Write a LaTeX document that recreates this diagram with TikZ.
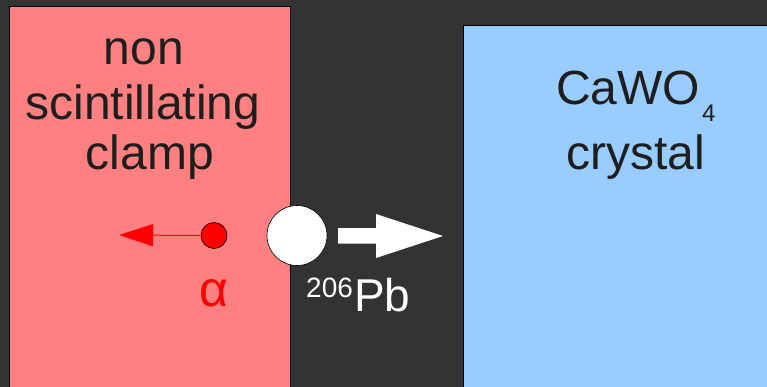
\documentclass[tikz,border=0pt]{standalone}
\usepackage{fontspec}
\setmainfont{Liberation Sans}
\usetikzlibrary{arrows.meta}
\definecolor{bg}{HTML}{333333}
\definecolor{clamp}{HTML}{FF8080}
\definecolor{crys}{HTML}{99CCFF}
\definecolor{ink}{HTML}{1E1E1E}
\begin{document}
\begin{tikzpicture}[x=1pt,y=-1pt,
  big/.style={font=\fontsize{48}{52}\selectfont, text=ink, inner sep=0pt, anchor=base},
  block/.style={draw=black, line width=0.8pt}]
\useasboundingbox (0,0) rectangle (767,387);
\fill[bg] (0,0) rectangle (767,387);
% clamp and crystal
\draw[block, fill=clamp] (9,400) -- (9,6) -- (290.5,6) -- (290.5,400);
\draw[block, fill=crys] (463,400) -- (463,25) -- (780,25) -- (780,400);
\clip (0,0) rectangle (767,387);
\node[big] (non) at (144,65) {non};
\node[big] (scint) at (143,120) {scintillating};
\node[big] (clampt) at (150,170) {clamp};
\node[big, anchor=base west] (cawo) at (556,105) {CaWO};
\node[font=\fontsize{24}{26}\selectfont, text=ink, inner sep=0pt, anchor=base west] (four) at (702,122) {4};
\node[big] (cryst) at (636,170) {crystal};
% alpha particle
\node[circle, draw=black, line width=0.6pt, fill=red, minimum size=26pt, inner sep=0pt] (alpha) at (214,235.5) {};
\coordinate (atip) at (119,235);
\draw[red, line width=1pt, -{Triangle[length=34pt,width=22pt]}] (alpha.west) -- (atip);
\node[font=\fontsize{50}{54}\selectfont, text=red, inner sep=0pt, anchor=base] (alab) at (214,306) {α};
% Pb recoil
\node[circle, draw=black, line width=0.6pt, fill=white, minimum size=60pt, inner sep=0pt] (pb) at (297,235.5) {};
\fill[white] (338,228) -- (376,228) -- (376,214) -- (443,236) -- (376,258) -- (376,243.5) -- (338,243.5) -- cycle;
\node[font=\fontsize{28}{30}\selectfont, text=white, inner sep=0pt, anchor=base west] (sup) at (306,297) {206};
\node[font=\fontsize{46}{50}\selectfont, text=white, inner sep=0pt, anchor=base west] (pbl) at (354,311) {Pb};
\end{tikzpicture}
\end{document}
